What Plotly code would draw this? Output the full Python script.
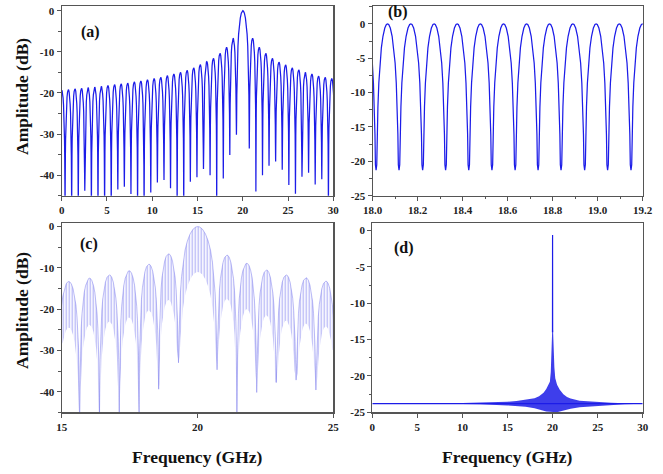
import plotly.graph_objects as go

# ---------------- data ----------------
# Panel (a): null positions (GHz), null depths (dB), lobe peak levels (dB)
a_null_f = [-0.36, 0.37, 1.10, 1.83, 2.55, 3.28, 4.01, 4.74, 5.47, 6.20, 6.92, 7.65, 8.38,
            9.10, 9.84, 10.57, 11.30, 12.02, 12.75, 13.48, 14.21, 14.94, 15.66, 16.39,
            17.12, 17.85, 18.57, 19.30, 20.72, 21.45, 22.18, 22.90, 23.63, 24.36, 25.09,
            25.82, 26.54, 27.27, 28.00, 28.73, 29.46, 30.19]
a_null_db = [-48, -48, -48, -48, -43.8, -48, -48, -48, -48, -43.5, -42.8, -44.6, -48,
             -48, -44.2, -41.8, -41.2, -43.2, -48, -48, -41.6, -40.5, -38.5, -40.0,
             -48, -40.8, -35.1, -30.2, -33.5, -44.0, -40.0, -37.7, -36.7, -38.7, -42.4,
             -44.5, -40.4, -39.4, -42.3, -41.0, -48, -48]
a_peak_db = [-19.4, -19.2, -19.0, -18.9, -18.7, -18.6, -18.4, -18.2, -18.0, -17.8, -17.6,
             -17.3, -17.1, -16.8, -16.5, -16.2, -15.8, -15.4, -15.0, -14.5, -13.9, -13.1,
             -12.4, -11.6, -10.4, -8.9, -6.7, 0.0, -6.7, -8.9, -10.4, -11.6, -12.5,
             -13.2, -13.9, -14.4, -15.0, -15.4, -15.9, -16.2, -16.5]

# Panel (b)
b_null_f = [17.917, 18.015, 18.117, 18.222, 18.324, 18.427, 18.530, 18.633, 18.735,
            18.837, 18.942, 19.044, 19.148, 19.251]
b_null_db = [-21.3] * 14
b_peak_db = [0.0] * 13

# Panel (c): big-lobe nulls, depths, upper (fine peaks) and lower (fine troughs) levels
c_null_f = [14.86, 15.66, 16.39, 17.12, 17.85, 18.57, 19.30, 20.72, 21.45, 22.18,
            22.90, 23.63, 24.36, 25.09]
c_null_db = [-30, -48, -48, -48, -46, -39.4, -33.0, -34.7, -48, -40.2, -37.8, -37.2,
             -39.6, -30]
c_peak_db = [-13.3, -12.5, -11.7, -10.7, -9.1, -6.6, 0.0, -6.9, -8.9, -10.5, -11.7,
             -12.4, -13.2]
c_trough_db = [-24.5, -23.8, -23.0, -22.0, -20.3, -17.8, -11.0, -17.5, -20.0, -21.5,
               -22.8, -23.5, -24.2]

# Panel (d): baseline, noise band envelope, central spike
d_base_f = [0, 30]
d_base_db = [-23.8, -23.8]
d_band_f = [8, 12, 15, 16, 17, 18, 18.5, 19.0, 19.3, 19.5, 19.7, 19.8, 19.9, 19.95,
            20.05, 20.1, 20.2, 20.3, 20.5, 20.8, 21.2, 21.6, 22.0, 23.0, 24.0, 25.0,
            26.5, 28.0, 30]
d_band_hi = [-23.78, -23.7, -23.55, -23.45, -23.3, -23.05, -22.8, -22.3, -21.8, -21.3,
             -20.8, -19.5, -15.5, -14.0, -13.6, -16.5, -18.8, -20.3, -21.2, -21.9,
             -22.5, -22.9, -23.1, -23.4, -23.5, -23.6, -23.7, -23.75, -23.78]
d_band_lo = [-23.82, -23.88, -24.05, -24.15, -24.25, -24.45, -24.6, -24.8, -24.9, -25.0,
             -25.0, -25.0, -25.0, -25.0, -25.0, -25.0, -25.0, -25.0, -25.0, -24.9,
             -24.7, -24.6, -24.5, -24.3, -24.2, -24.1, -24.0, -23.9, -23.82]
d_spike_f = [19.99, 20.0, 20.01]
d_spike_db = [-14.0, -0.6, -14.0]

# Lobe profile: fraction of lobe width -> dB below lobe peak
LOBE_T = [0.015, 0.03, 0.05, 0.08, 0.12, 0.17, 0.23, 0.30, 0.38, 0.45]
LOBE_DB = [-26.5, -20.5, -16.1, -12.1, -8.6, -5.7, -3.5, -1.8, -0.6, -0.1]

# Tick labels
a_xt = [0, 5, 10, 15, 20, 25, 30]
a_yt = [0, -10, -20, -30, -40]
b_xt = [18.0, 18.2, 18.4, 18.6, 18.8, 19.0, 19.2]
b_yt = [0, -5, -10, -15, -20, -25]
c_xt = [15, 20, 25]
c_yt = [0, -10, -20, -30, -40]
d_xt = [0, 5, 10, 15, 20, 25, 30]
d_yt = [0, -5, -10, -15, -20, -25]


def lobes(nulls, depths, peaks):
    xs, ys = [nulls[0]], [depths[0]]
    for i, p in enumerate(peaks):
        n0, n1 = nulls[i], nulls[i + 1]
        w = n1 - n0
        for t, o in zip(LOBE_T, LOBE_DB):
            if p + o > depths[i]:
                xs.append(n0 + t * w)
                ys.append(p + o)
        xs.append(n0 + 0.5 * w)
        ys.append(p)
        for t, o in zip(LOBE_T[::-1], LOBE_DB[::-1]):
            if p + o > depths[i + 1]:
                xs.append(n1 - t * w)
                ys.append(p + o)
        xs.append(n1)
        ys.append(depths[i + 1])
    return xs, ys


def lbl(v, fmt="{:g}"):
    return [fmt.format(x) for x in v]


BLUE = "rgb(28,28,232)"
W, H = 663, 474

fig = go.Figure()

ax, ay = lobes(a_null_f, a_null_db, a_peak_db)
fig.add_trace(go.Scatter(x=ax, y=ay, mode="lines", line=dict(color=BLUE, width=1.25),
                         xaxis="x", yaxis="y", showlegend=False))

bx, by = lobes(b_null_f, b_null_db, b_peak_db)
fig.add_trace(go.Scatter(x=bx, y=by, mode="lines", line=dict(color=BLUE, width=1.25),
                         xaxis="x2", yaxis="y2", showlegend=False))

cux, cuy = lobes(c_null_f, c_null_db, c_peak_db)
clx, cly = lobes(c_null_f, c_null_db, c_trough_db)
fig.add_trace(go.Scatter(x=cux + clx[::-1], y=cuy + cly[::-1], mode="lines",
                         line=dict(width=0), fill="toself",
                         fillcolor="rgba(0,0,0,0)",
                         fillpattern=dict(shape="|", size=3, solidity=0.35,
                                          fgcolor="rgba(125,125,238,0.55)",
                                          bgcolor="rgba(205,205,250,0.2)"),
                         xaxis="x3", yaxis="y3", showlegend=False, hoverinfo="skip"))
fig.add_trace(go.Scatter(x=cux, y=cuy, mode="lines",
                         line=dict(color="rgba(110,110,235,0.55)", width=0.8),
                         xaxis="x3", yaxis="y3", showlegend=False))

fig.add_trace(go.Scatter(x=d_band_f + d_band_f[::-1], y=d_band_hi + d_band_lo[::-1],
                         mode="lines", line=dict(width=0), fill="toself",
                         fillcolor="rgba(28,28,232,0.85)",
                         xaxis="x4", yaxis="y4", showlegend=False, hoverinfo="skip"))
fig.add_trace(go.Scatter(x=d_base_f, y=d_base_db, mode="lines",
                         line=dict(color=BLUE, width=1.2),
                         xaxis="x4", yaxis="y4", showlegend=False))
fig.add_trace(go.Scatter(x=d_spike_f, y=d_spike_db, mode="lines",
                         line=dict(color=BLUE, width=1.2),
                         xaxis="x4", yaxis="y4", showlegend=False))

TF = dict(family="Liberation Serif", size=11, color="#222", weight="bold")
common = dict(showline=True, linecolor="#555", linewidth=1.2, mirror=True,
              ticks="outside", ticklen=4, tickwidth=1, tickcolor="#555",
              showgrid=False, zeroline=False, tickfont=TF, tickmode="array",
              automargin=False)


def px_x(a, b):
    return [a / W, b / W]


def px_y(top, bottom):
    return [1 - bottom / H, 1 - top / H]


fig.update_layout(
    template="none", hovermode=False,
    width=W, height=H, margin=dict(l=0, r=0, t=0, b=0, pad=0, autoexpand=False),
    paper_bgcolor="white", plot_bgcolor="white",
    xaxis=dict(common, domain=px_x(61.7, 333.3), range=[0, 30], anchor="y",
               tickvals=a_xt, ticktext=lbl(a_xt)),
    yaxis=dict(common, domain=px_y(6, 195.7), range=[-45, 1.15], anchor="x",
               tickvals=a_yt, ticktext=lbl(a_yt),
               minor=dict(tickmode="linear", tick0=0, dtick=5, ticks="outside",
                          ticklen=2.5, tickcolor="#555")),
    xaxis2=dict(common, domain=px_x(372.7, 642.7), range=[18.0, 19.2], anchor="y2",
                tickvals=b_xt, ticktext=lbl(b_xt, "{:.1f}"),
                minor=dict(tickmode="linear", tick0=18.0, dtick=0.1, ticks="outside",
                           ticklen=2.5, tickcolor="#555")),
    yaxis2=dict(common, domain=px_y(6, 195.7), range=[-25, 2.6], anchor="x2",
                tickvals=b_yt, ticktext=lbl(b_yt),
                minor=dict(tickmode="linear", tick0=0, dtick=2.5, ticks="outside",
                           ticklen=2.5, tickcolor="#555")),
    xaxis3=dict(common, domain=px_x(61.7, 333.3), range=[15, 25], anchor="y3",
                tickvals=c_xt, ticktext=lbl(c_xt)),
    yaxis3=dict(common, domain=px_y(223.3, 412.3), range=[-45, 0.8], anchor="x3",
                tickvals=c_yt, ticktext=lbl(c_yt),
                minor=dict(tickmode="linear", tick0=0, dtick=5, ticks="outside",
                           ticklen=2.5, tickcolor="#555")),
    xaxis4=dict(common, domain=px_x(372.3, 642.7), range=[0, 30], anchor="y4",
                tickvals=d_xt, ticktext=lbl(d_xt)),
    yaxis4=dict(common, domain=px_y(223.3, 412.3), range=[-25, 1.0], anchor="x4",
                tickvals=d_yt, ticktext=lbl(d_yt),
                minor=dict(tickmode="linear", tick0=0, dtick=2.5, ticks="outside",
                           ticklen=2.5, tickcolor="#555")),
)

AF = dict(family="Liberation Serif", size=17.5, color="#111", weight="bold")
PF = dict(family="Liberation Serif", size=16, color="#111", weight="bold")
ann = [
    ("Amplitude (dB)", 22, 97, -90, AF),
    ("Amplitude (dB)", 22, 311, -90, AF),
    ("Frequency (GHz)", 197.5, 457, 0, AF),
    ("Frequency (GHz)", 507.5, 457, 0, AF),
    ("(a)", 90, 32, 0, PF),
    ("(b)", 398, 12, 0, PF),
    ("(c)", 89, 244, 0, PF),
    ("(d)", 404, 248, 0, PF),
]
for text, x, y, ang, f in ann:
    fig.add_annotation(text=text, x=x / W, y=1 - y / H,
                       xref="paper", yref="paper",
                       showarrow=False, textangle=ang, font=f,
                       xanchor="center", yanchor="middle")

# remove the default page margin so the figure sits at the window's top-left corner
fig.write_html("out.html",
               config={"displayModeBar": False, "staticPlot": True},
               post_script="document.body.style.margin='0';"
                           "document.documentElement.style.overflow='hidden';")
